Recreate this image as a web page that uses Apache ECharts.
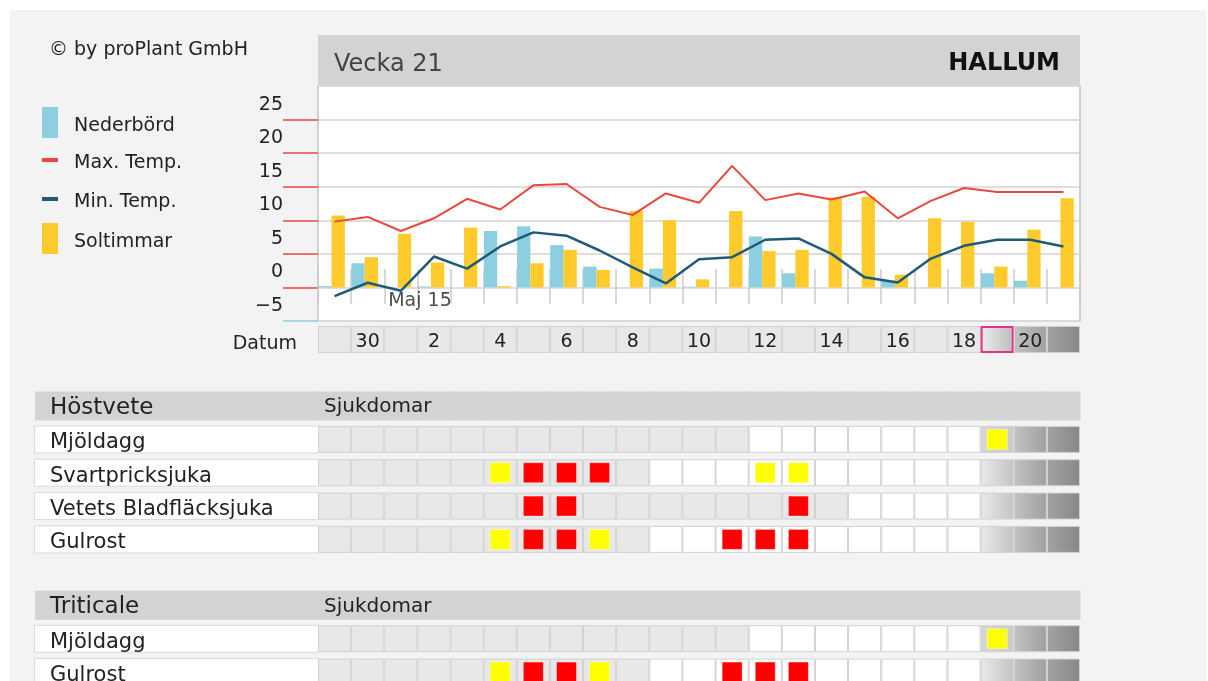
<!DOCTYPE html>
<html><head><meta charset="utf-8">
<script src="https://cdn.jsdelivr.net/npm/echarts@6.0.0/dist/echarts.min.js"></script>
<style>
html,body{margin:0;padding:0;background:#fff;width:1208px;height:681px;overflow:hidden}
#bg{position:absolute;left:10px;top:10px;width:1196px;height:671px;background:#f3f3f3}
#chart{position:absolute;left:0;top:0;width:1208px;height:720px}
</style></head>
<body><div id="bg"></div><div id="chart"></div>
<script>
const FONT = 'DejaVu Sans';

// ---- data ----
const days = [29,30,1,2,3,4,5,6,7,8,9,10,11,12,13,14,15,16,17,18,19,20,21];
const yTickValues = [0,5,10,15,20,25];
const yLabelValues = [-5,0,5,10,15,20,25];
const precipitation = [0.2,3.6,0,0.15,0,8.4,9.1,6.3,3.1,0,2.8,0.1,0,7.6,2.1,0,0,1.0,0,0,2.1,1.0,0];
const sunHours = [10.7,4.5,8.0,3.7,8.9,0.2,3.6,5.6,2.6,11.4,10.0,1.2,11.4,5.4,5.6,13.4,13.5,1.9,10.3,9.8,3.1,8.6,13.3];
const maxTemp = [9.8,10.5,8.4,10.3,13.2,11.6,15.2,15.4,12.0,10.8,14.0,12.6,18.1,13.0,14.0,13.1,14.3,10.3,12.9,14.8,14.2,14.2,14.2];
const minTemp = [-1.3,0.7,-0.5,4.6,2.8,6.1,8.2,7.7,5.5,3.0,0.6,4.2,4.5,7.1,7.3,5.0,1.5,0.75,4.3,6.2,7.1,7.1,6.1];
const monthLabels = [{ day: 1, text: 'Maj 15', y: -2 }];

// cell codes: g gray, w white, y/Y yellow (gray/white bg), r/R red (gray/white bg),
// q yellow on shaded, f fade, d dark, D darker, p today (pink frame)
const datumCodes = 'ggggggggggggggggggggpdD';
const hostveteDiseases = ['Mjöldagg','Svartpricksjuka','Vetets Bladfläcksjuka','Gulrost'];
const hostveteCodes = [
  'gggggggggggggwwwwwwwqdD',
  'gggggyrrrgwwwYYwwwwwfdD',
  'ggggggrrggggggrgwwwwfdD',
  'gggggyrrygwwRRRwwwwwfdD'
];
const triticaleDiseases = ['Mjöldagg','Gulrost'];
const triticaleCodes = [
  'gggggggggggggwwwwwwwqdD',
  'gggggyrrygwwRRRwwwwwfdD'
];

// ---- helpers ----
const dayLabels = days.map((d, i) => (i % 2 === 1 ? String(d) : ''));
function grad(a, b) {
  return new echarts.graphic.LinearGradient(0, 0, 1, 0, [{offset: 0, color: a}, {offset: 1, color: b}]);
}
const CELL_FILL = { g: '#e8e8e8', w: '#ffffff', y: '#e8e8e8', Y: '#ffffff', r: '#e8e8e8', R: '#ffffff' };
const GRADS = { f: ['#e9e9e9', '#c4c4c4'], q: ['#d6d6d6', '#cacaca'], p: ['#ececec', '#bdbdbd'], d: ['#c2c2c2', '#a0a0a0'], D: ['#a3a3a3', '#878787'] };
const MARK = { y: '#ffff00', Y: '#ffff00', q: '#ffff00', r: '#ff0000', R: '#ff0000' };

function tableCells(codes, headerText) {
  const out = [];
  const off = headerText ? 1 : 0;
  if (headerText) days.forEach((d, i) => out.push({ col: i, row: 0, code: 'h', text: i === 0 ? headerText : '' }));
  codes.forEach((str, r) => str.split('').forEach((ch, i) => out.push({ col: i, row: r + off, code: ch })));
  return out;
}
const datumCells = datumCodes.split('').map((ch, i) => ({ col: i, row: 0, code: ch, text: dayLabels[i] }));
const hostveteCells = tableCells(hostveteCodes, 'Sjukdomar');
const triticaleCells = tableCells(triticaleCodes, 'Sjukdomar');

function cellRenderer(cells) {
  return function (params, api) {
    const c = cells[params.dataIndex];
    const p = api.coord([api.value(0), api.value(1)]);
    const s = api.size([1, 1]);
    const w = s[0];
    const children = [];
    if (c.code === 'h') {
      const h = 29;
      children.push({ type: 'rect', z2: 1, shape: { x: p[0] - w / 2 - 0.5, y: p[1] - h / 2, width: w + 1, height: h }, style: { fill: '#d3d3d3' } });
      if (c.text) children.push({ type: 'text', z2: 50, style: { x: p[0] - w / 2 + 6, y: p[1] + 1, text: c.text, fill: '#222', font: '20px "' + FONT + '"', align: 'left', verticalAlign: 'middle' } });
      return { type: 'group', children };
    }
    const h = 27;
    const x0 = p[0] - w / 2, y0 = p[1] - h / 2;
    const fill = GRADS[c.code] ? grad(GRADS[c.code][0], GRADS[c.code][1]) : CELL_FILL[c.code];
    if (c.code === 'p') {
      children.push({ type: 'rect', shape: { x: x0 + 1, y: y0 + 1, width: w - 2, height: h - 2 }, style: { fill, stroke: '#e8308a', lineWidth: 2 } });
    } else {
      children.push({ type: 'rect', shape: { x: x0 + 0.5, y: y0 + 0.5, width: w - 1, height: h - 1 }, style: { fill, stroke: '#d2d2d2', lineWidth: 1 } });
    }
    if (MARK[c.code]) children.push({ type: 'rect', shape: { x: p[0] - 10, y: p[1] - 10, width: 20, height: 20 }, style: { fill: MARK[c.code], stroke: 'rgba(255,255,255,0.4)', lineWidth: 1 } });
    if (c.text) children.push({ type: 'text', style: { x: p[0], y: p[1] + 3, text: c.text, fill: '#222', font: '19px "' + FONT + '"', align: 'center', verticalAlign: 'middle' } });
    return { type: 'group', children };
  };
}

const tableLabel = {
  interval: 0, margin: 283, align: 'left',
  formatter: (v, i) => (i === 0 ? '{hd|' + v + '}' : '{rw|' + v + '}'),
  rich: {
    hd: { width: 268, height: 25, lineHeight: 25, padding: [4, 0, 0, 15], backgroundColor: '#d3d3d3', fontSize: 23, color: '#222', fontFamily: FONT },
    rw: { width: 268, height: 19, lineHeight: 19, padding: [7, 0, 0, 15], backgroundColor: '#ffffff', borderColor: '#dadada', borderWidth: 1, fontSize: 21, color: '#222', fontFamily: FONT }
  }
};
const hiddenCat = gi => ({ type: 'category', gridIndex: gi, data: days, show: false });

const legendBase = { left: 42, padding: 0, icon: 'rect', itemWidth: 16, selectedMode: false,
  formatter: name => '{a|' + name + '}' };
const legendText = pt => ({ rich: { a: { fontSize: 19, color: '#222', fontFamily: FONT, height: 20, lineHeight: 20, padding: [pt, 0, 0, 11] } } });

const chart = echarts.init(document.getElementById('chart'), null, { renderer: 'canvas' });
chart.setOption({
  animation: false,
  textStyle: { fontFamily: FONT },
  title: { text: '© by proPlant GmbH', left: 49, top: 41, padding: 0,
    textStyle: { fontSize: 19, fontWeight: 'normal', color: '#222', fontFamily: FONT } },
  graphic: [
    { type: 'rect', x: 318, y: 35, shape: { width: 762, height: 50 }, style: { fill: '#d3d3d3' }, silent: true },
    { type: 'text', x: 334, y: 65, style: { text: 'Vecka 21', font: '24px "' + FONT + '"', fill: '#444', verticalAlign: 'middle' }, silent: true },
    { type: 'text', x: 1060, y: 64, style: { text: 'HALLUM', font: 'bold 24px "' + FONT + '"', fill: '#111', align: 'right', verticalAlign: 'middle' }, silent: true }
  ],
  legend: [
    Object.assign({}, legendBase, { data: ['Nederbörd'], top: 107, itemHeight: 31, textStyle: legendText(8) }),
    Object.assign({}, legendBase, { data: ['Max. Temp.'], top: 147, itemHeight: 4, textStyle: legendText(6) }),
    Object.assign({}, legendBase, { data: ['Min. Temp.'], top: 186, itemHeight: 4, textStyle: legendText(6) }),
    Object.assign({}, legendBase, { data: ['Soltimmar'], top: 223, itemHeight: 31, textStyle: legendText(8) })
  ],
  grid: [
    { left: 318, top: 86, width: 762, height: 235, show: true, backgroundColor: '#ffffff', borderColor: '#d0d0d0', borderWidth: 1.5 },
    { left: 315, top: 86, width: 762, height: 235 },
    { left: 318, top: 322.8, width: 762, height: 33.33 },
    { left: 318, top: 389.4, width: 762, height: 166.67 },
    { left: 318, top: 588.7, width: 762, height: 100 }
  ],
  xAxis: [
    { type: 'category', gridIndex: 0, data: days, boundaryGap: true, position: 'bottom', offset: -17,
      axisLine: { show: false, onZero: false },
      axisTick: { show: true, interval: 0, inside: true, length: 35, lineStyle: { color: '#cccccc', width: 1.5 } },
      axisLabel: { show: false },
      splitLine: { show: true, interval: (idx) => days[idx] === 1, lineStyle: { color: '#cccccc', width: 1.5 } } },
    hiddenCat(1), hiddenCat(2), hiddenCat(3), hiddenCat(4)
  ],
  yAxis: [
    { type: 'value', gridIndex: 0, min: -5, max: 30, interval: 5, position: 'left',
      axisLine: { show: false },
      axisTick: { show: true, customValues: yTickValues, length: 35, lineStyle: { color: '#e8473c', width: 1.5 } },
      axisLabel: { customValues: yLabelValues, margin: 35, fontSize: 19, color: '#222', fontFamily: FONT,
        verticalAlign: 'bottom', lineHeight: 30, formatter: v => String(v).replace('-', '\u2212') },
      splitLine: { show: true, lineStyle: { color: '#d3d3d3', width: 1.5 } } },
    { type: 'value', gridIndex: 0, min: -5, max: 30, interval: 5, position: 'left',
      axisLine: { show: false }, axisLabel: { show: false }, splitLine: { show: false },
      axisTick: { show: true, customValues: [-5], length: 35, lineStyle: { color: '#8ccfe2', width: 1.5 } } },
    { type: 'value', gridIndex: 1, min: -5, max: 30, interval: 5, show: false, splitLine: { show: false } },
    { type: 'category', gridIndex: 2, data: ['Datum'], axisLine: { show: false }, axisTick: { show: false },
      axisLabel: { margin: 21, formatter: v => '{a|' + v + '}',
        rich: { a: { fontSize: 19, color: '#222', fontFamily: FONT, height: 20, lineHeight: 20, padding: [9, 0, 0, 0] } } } },
    { type: 'category', gridIndex: 3, inverse: true, data: ['Höstvete'].concat(hostveteDiseases),
      axisLine: { show: false }, axisTick: { show: false }, axisLabel: tableLabel },
    { type: 'category', gridIndex: 4, inverse: true, data: ['Triticale'].concat(triticaleDiseases),
      axisLine: { show: false }, axisTick: { show: false }, axisLabel: tableLabel }
  ],
  series: [
    { name: 'Nederbörd', type: 'bar', xAxisIndex: 1, yAxisIndex: 2, data: precipitation, barWidth: 13.3, barGap: '0%',
      itemStyle: { color: '#8ccfe1' } },
    { name: 'Soltimmar', type: 'bar', xAxisIndex: 1, yAxisIndex: 2, data: sunHours, barWidth: 13.3, barGap: '0%',
      itemStyle: { color: '#ffca2b' } },
    { name: 'Max. Temp.', type: 'line', xAxisIndex: 0, yAxisIndex: 0, data: maxTemp, showSymbol: false, z: 5,
      itemStyle: { color: '#e8493e' }, lineStyle: { color: '#e8493e', width: 2 } },
    { name: 'Min. Temp.', type: 'line', xAxisIndex: 0, yAxisIndex: 0, data: minTemp, showSymbol: false, z: 5,
      itemStyle: { color: '#1f5a77' }, lineStyle: { color: '#1f5a77', width: 2.5 } },
    { name: 'month', type: 'scatter', xAxisIndex: 0, yAxisIndex: 0, silent: true, symbolSize: 1,
      itemStyle: { color: 'rgba(0,0,0,0)' },
      data: monthLabels.map(m => ({ name: m.text, value: [days.indexOf(m.day), m.y] })),
      label: { show: true, formatter: '{b}', position: 'inside', align: 'left', verticalAlign: 'middle', offset: [-12.6, 0],
        fontSize: 19, color: '#222', fontFamily: FONT } },
    { name: 'datum', type: 'custom', xAxisIndex: 2, yAxisIndex: 3, silent: true,
      data: datumCells.map(c => [c.col, c.row]), renderItem: cellRenderer(datumCells) },
    { name: 'hostvete', type: 'custom', xAxisIndex: 3, yAxisIndex: 4, silent: true,
      data: hostveteCells.map(c => [c.col, c.row]), renderItem: cellRenderer(hostveteCells) },
    { name: 'triticale', type: 'custom', xAxisIndex: 4, yAxisIndex: 5, silent: true,
      data: triticaleCells.map(c => [c.col, c.row]), renderItem: cellRenderer(triticaleCells) }
  ]
});
</script>
</body></html>
